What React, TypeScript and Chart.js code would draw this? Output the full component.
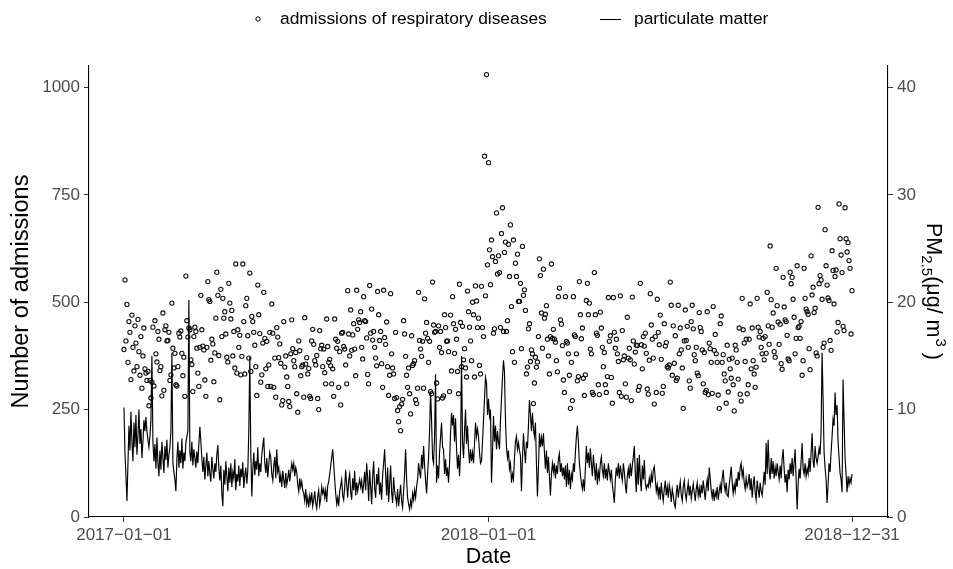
import { useEffect, useRef } from "react";
import { Chart, registerables } from "chart.js";

Chart.register(...registerables);

const xTickDays = [0, 365, 729];
const xTickLabels = ["2017\u221201\u221201", "2018\u221201\u221201", "2018\u221212\u221231"];
const leftTicks = [0, 250, 500, 750, 1000];
const rightTicks = [0, 10, 20, 30, 40];
const legendLabels = ["admissions of respiratory diseases", "particulate matter"];
const axisTitles = { x: "Date", left: "Number of admissions" };

const admissions2017 = [
  390, 552, 410, 495, 360, 455, 430, 320, 470, 395, 340, 445, 405, 350, 460, 385, 330, 420, 300, 375, 440, 345,
  335, 318, 339, 259, 318, 277, 314, 442, 305, 457, 380,
  361, 432, 414, 341, 350, 282, 475, 295, 436, 445, 410,
  411, 430, 318, 331, 498, 393, 347, 381, 308, 305, 350,
  428, 419, 433, 381, 329, 372, 281, 561, 457, 419, 440,
  436, 366, 355, 292, 420, 442, 432, 393, 335, 304, 395,
  516, 436, 398, 389, 319, 281, 395, 548, 506, 502, 365,
  414, 403, 315, 382, 463, 570, 516, 376, 273, 530, 420,
  509, 463, 478, 426, 372, 361, 544, 498, 461, 481, 375,
  432, 347, 589, 335, 436, 395, 423, 331, 374, 589, 455,
  333, 492, 509, 422, 370, 568, 339, 467, 455, 430, 400,
  350, 283, 540, 471, 427, 314, 331, 405, 523, 416, 345,
  409, 304, 354, 430,
  304, 496, 428, 302, 370, 279, 441, 419, 371, 403,
  358, 261, 271, 455, 349, 375, 326, 304, 269, 257, 380,
  459, 392, 364, 350, 383, 287, 244, 410, 387, 329,
  350, 354, 279, 464, 356, 371, 333, 346, 281, 276, 410,
  437, 402, 364, 354, 376, 276, 250, 434, 392, 400,
  350, 391, 336, 310, 461, 397, 360, 367, 352, 310, 345,
  281, 461, 414, 393, 409, 302, 385, 261, 428, 430,
  397, 391, 354, 310, 527, 426, 375, 482, 388, 424, 450,
  391, 329, 528, 437, 459, 453, 478, 395, 368, 513,
  457, 455, 417, 332, 310, 539, 428, 484, 412, 432, 395,
  370, 352, 525, 471, 411, 432, 357, 302, 528, 418,
  402, 454, 350, 283, 330, 520, 380, 347, 333, 276, 430,
  278, 248, 222, 257, 201, 263, 274, 457, 426, 374, 330,
  302, 347, 287, 240, 422, 353, 357, 364, 273, 264, 300,
  523, 411, 391, 374, 409, 300, 508, 428, 453, 416, 360,
  409, 292, 287, 547, 447, 430, 432, 312, 275, 445, 395,
  432, 383, 277, 282, 471, 441, 409, 410, 385, 292, 470,
  340, 513, 450, 381, 437, 414, 339, 287, 542, 453, 350,
  444, 366, 392, 347, 326, 526, 478, 442, 410, 364, 500,
  471, 326, 538, 503, 441, 463, 353, 333, 537, 441,
  420, 840, 515, 1030, 587,
];

const admissions2018 = [
  825, 622, 541, 645, 606, 428, 438, 595, 708, 566, 608, 569, 441, 660, 720, 432, 616, 640, 432, 457, 635, 560,
  680, 490, 385, 645, 360, 591, 560, 612, 502,
  502, 544, 392, 630, 516, 529, 481, 333, 349, 438, 450,
  362, 389, 380, 264, 312, 372, 349, 361, 420, 601,
  562, 475, 393, 577, 463, 472, 492, 414, 375, 333, 420,
  589, 416, 437, 414, 407, 364, 338, 513, 533, 459,
  449, 399, 319, 290, 513, 409, 405, 380, 330, 253, 360,
  271, 513, 424, 420, 380, 317, 327, 548, 471, 415, 440,
  323, 283, 331, 504, 544, 471, 498, 391, 380, 290,
  285, 569, 471, 428, 423, 308, 285, 477, 440, 395, 350,
  383, 308, 290, 327, 511, 409, 422, 325, 265, 511, 430,
  393, 414, 380, 362, 290, 515, 281, 434, 366, 375, 310,
  279, 465, 370, 393, 366, 271, 512, 410, 356, 384, 400,
  399, 295, 304, 544, 401, 345, 420,
  398, 428, 381, 298, 286, 365, 520, 447, 414, 370, 263, 420,
  290, 507, 430, 401, 470, 367, 288, 304, 450, 398, 406, 350,
  347, 354, 547, 493, 330, 445, 358, 422, 318, 323, 493, 380,
  440, 389, 347, 253, 410, 482, 411, 444, 395, 317, 300, 455,
  493, 438, 378, 364, 395, 335, 329, 476, 441, 432, 389, 310,
  383, 290, 295, 478, 285, 405, 392, 360, 288, 490, 388, 425,
  380, 360, 284, 253, 450, 468, 360, 378, 333, 317, 265, 400,
  291, 367, 345, 323, 370, 308, 247, 400, 389, 360, 321, 440,
  286, 270, 509, 436, 405, 362, 414, 287, 308, 414, 496, 345,
  440, 364, 333, 302, 349, 509, 442, 419, 432, 395, 380,
  416, 366, 420, 381, 523,
  445, 402, 631, 506, 442, 475, 385, 372, 579, 492,
  454, 402, 449, 357, 344, 558, 489, 459, 455, 423,
  368, 364, 570, 543, 558, 507, 465, 380, 416, 585,
  441, 444, 416, 455, 330, 364, 579, 509, 484, 478,
  472, 392, 343, 608, 517, 535, 476, 486, 382, 375,
  721, 543, 562, 552, 507, 395, 405, 669, 585, 540,
  510, 504, 411, 388, 620, 574, 496, 560, 575, 431,
  453, 729, 648, 610, 569, 444, 434, 720, 648,
  617, 639, 597, 579, 426, 527,
];

const pm2017 = [
  10.2, 6.0, 3.8, 1.5, 5.0, 8.5, 6.2, 9.8, 7.0, 5.2, 8.8, 6.5, 9.5, 5.8, 7.6, 10.0, 6.8, 8.2, 5.5, 7.0, 9.0, 8.0,
  9.3, 8.0, 7.2, 6.5, 7.5, 9.0, 15.0, 7.0,
  5.2, 6.8, 4.5, 7.4, 5.0, 3.8, 6.2, 4.4, 7.0, 5.5, 4.1, 6.6, 5.3, 7.2, 4.6, 5.8,
  6.5, 8.0, 15.3, 5.0, 4.2, 3.5, 2.4,
  5.4, 7.0, 4.6, 6.2, 5.0, 7.3, 4.5, 6.0, 5.2, 6.9, 7.5,
  8.0, 20.2, 6.0,
  5.2, 7.0, 4.8, 6.3, 5.5, 4.6, 6.1, 5.0, 6.8,
  8.4, 7.0, 5.5,
  4.2, 5.6, 3.5, 4.8, 6.0, 3.8, 5.2, 4.0, 3.3, 5.6, 4.5, 3.6, 5.0, 4.2, 5.8, 6.7, 4.6, 3.4, 4.8, 2.2, 1.0,
  4.4, 3.0, 5.2, 3.8, 2.4, 4.6, 3.2, 5.0, 2.8, 4.2, 3.6, 5.4, 2.5, 4.0, 3.3, 4.8, 2.9, 4.5, 3.7, 5.1, 2.7, 3.9, 4.6, 3.1, 4.3,
  8.0, 14.9, 6.0, 1.9,
  4.5, 6.0, 3.9, 5.2, 4.4, 6.5, 3.8, 5.0, 4.2, 5.8, 6.6, 7.4, 5.0, 4.1, 5.5, 3.7, 4.9, 6.0,
  5.5, 4.0, 3.4, 4.8, 5.6, 3.6,
  6.3, 4.2,
  4.6, 3.2, 3.9, 2.8, 4.3, 3.5, 2.7, 4.1, 3.0, 3.6, 4.4, 3.3,
  4.2, 5.0, 4.4, 5.0, 3.8,
  4.6, 4.2, 3.0, 2.4, 3.6, 2.8, 3.3, 2.5,
  2.2, 1.5, 2.6, 1.2, 1.8, 0.9, 2.0, 1.4, 2.3, 1.0, 1.6, 2.4, 1.3, 0.8, 1.9, 2.5, 1.1, 1.7, 2.8, 2.2,
  2.6,
  1.8, 2.5, 1.4, 2.9, 3.3, 4.0, 4.8, 5.5, 6.3, 5.0, 3.5,
  2.2, 1.2, 1.8, 1.0, 2.4,
  2.9, 3.5,
  2.0, 1.6, 2.8, 4.4, 3.0, 1.8, 3.4, 4.0, 2.3, 1.6, 3.6, 2.5, 4.3, 2.0, 3.2,
  2.4, 3.0, 3.5, 2.8, 3.4, 2.2,
  3.0, 4.2, 2.5, 5.0, 3.6, 1.5, 4.4, 2.8, 1.2, 3.8, 5.2, 2.6, 1.8, 4.0, 3.0, 4.6, 2.1,
  3.2, 1.6, 3.9, 5.0, 6.3, 4.0,
  2.0, 4.6, 1.4, 3.1, 4.8, 2.3, 1.3, 3.7, 2.4, 1.8,
  1.2, 2.6, 1.0, 2.0, 3.0, 1.5, 0.9, 2.4, 4.0, 6.3, 3.5, 1.8, 1.2, 0.7, 1.5, 1.0, 2.2, 1.6, 2.5, 1.8, 2.8, 3.5, 5.0, 4.2,
  3.6, 5.8, 4.5, 6.6, 4.8, 3.4, 2.2,
  4.0, 5.5, 8.0, 11.6, 9.0, 5.5, 5.0, 7.5, 13.3, 3.2,
  4.8, 3.6, 6.0, 7.5, 8.8, 6.5, 6.3, 4.0, 5.4, 3.8,
  4.6, 3.2, 5.0, 7.8, 9.7, 8.5, 9.5, 7.0, 9.2, 6.3,
  4.5, 5.8, 3.8, 6.0, 15.0, 7.0, 5.5, 8.0, 10.0, 6.8,
  8.5, 6.3, 5.0, 6.3, 5.2, 6.0, 5.0, 6.8, 8.8, 7.5,
  8.2, 7.5, 6.0, 5.0, 5.2, 7.0, 9.0, 11.0, 13.0, 12.5,
  9.5,
];

const pm2018 = [
  11.0, 9.4, 10.0, 3.2, 6.0, 9.4, 7.0, 8.5, 6.3, 8.0, 7.0, 6.3, 9.0, 11.0, 13.0, 14.6, 13.5, 9.0, 6.5, 5.5,
  6.2, 4.5, 5.0, 3.2, 4.0, 3.5, 5.5, 7.0, 7.5, 6.3, 6.9,
  6.2, 5.7, 2.4, 5.5, 7.8, 6.2, 5.0, 7.0, 6.4, 8.5,
  10.9, 9.5, 8.0, 9.7, 8.2, 7.5, 8.8, 5.0, 1.9, 4.5,
  7.8, 6.5, 7.4, 6.6, 7.8, 6.0, 4.5, 6.2, 4.1, 5.6,
  3.8, 2.0, 4.0, 5.0, 4.2, 5.0, 3.6, 4.8, 4.0, 5.4,
  5.9, 4.2, 5.0, 3.8, 4.6, 3.5, 4.8, 2.8, 5.0, 3.0,
  4.4, 2.6, 4.0, 3.5, 5.0, 4.2, 6.0, 7.5, 8.5, 7.0,
  5.0, 4.0, 3.2, 2.6, 3.5, 2.4, 4.5, 6.6, 5.0, 6.0,
  4.6, 6.4, 5.0, 3.8, 5.8, 4.6, 3.4, 5.0, 3.0, 4.2,
  3.6, 5.0, 5.6, 4.4, 3.8, 5.0, 3.6, 4.5, 3.4, 5.0,
  4.2, 3.5, 4.4, 3.0, 2.2, 1.3, 3.5, 4.6, 3.8, 5.0,
  3.6, 4.8, 4.0, 3.4, 5.0, 4.2, 3.0, 2.2, 3.8, 4.5,
  3.6, 5.0, 3.8, 4.8, 5.6, 6.6, 4.0, 2.3, 5.5, 3.0,
  5.8, 3.6, 2.4, 4.8, 3.5,
  5.3, 3.2, 2.6, 3.0, 2.8, 3.6, 3.0, 4.0, 3.2, 4.4,
  4.7, 3.5, 2.4, 3.0, 2.0, 2.8, 1.6, 3.2, 2.2, 1.5,
  2.6, 3.4, 2.0, 2.8, 1.8, 3.0, 2.4, 1.4, 2.6, 2.0,
  1.2, 0.9, 2.2, 3.0, 1.8, 2.6, 3.3, 2.0, 1.5, 2.8,
  3.4, 2.2, 1.6, 2.5, 3.2, 2.0, 2.9, 1.7, 2.4, 3.1,
  2.3, 1.5, 2.6, 3.2, 2.0, 2.7, 1.8, 3.0, 2.2, 3.4,
  2.5, 1.6, 2.8, 3.5, 2.4, 4.6, 3.6, 2.5, 1.8, 2.6,
  1.5, 2.3, 1.9, 2.8, 1.6, 2.4, 3.0, 2.2, 3.6, 4.4,
  3.0, 2.4, 3.2, 2.0, 1.9, 3.0, 3.8, 4.7, 3.2, 2.2,
  3.0, 2.4, 3.6, 2.8, 4.2, 3.4, 4.6, 5.0, 3.8, 4.4,
  3.2, 2.6, 3.6, 2.8, 3.2, 4.0, 2.5, 3.6, 1.8, 3.0,
  3.8, 2.2, 1.6, 3.4, 2.6, 1.8, 3.2, 2.4, 2.0, 3.0,
  4.2, 3.0, 6.9, 4.0,
  7.2, 4.5, 3.5, 5.5, 4.0, 5.2, 3.6, 4.6, 3.8, 5.0,
  4.2, 3.5, 4.8, 3.6, 5.4, 6.3, 4.5, 3.2, 4.0, 2.3,
  4.4, 3.5, 5.0, 4.0, 5.5, 3.8, 5.0, 6.3, 3.5, 0.7,
  3.0, 4.5, 3.6, 5.2, 6.9, 4.5, 4.0, 5.0, 3.8, 4.5,
  4.0, 5.5, 4.2, 6.0, 7.8, 5.2, 4.6, 6.6, 5.5, 5.0,
  5.6, 6.4, 5.8, 8.0, 15.3, 11.0, 6.0, 4.6, 3.5, 1.3,
  3.0, 5.0, 4.2, 6.0, 7.5, 9.1, 8.5, 11.6, 9.5, 10.4,
  7.0, 5.5, 4.1, 3.5, 2.3, 12.8, 9.0, 5.5, 4.0, 2.3,
  3.8, 3.0, 3.6, 3.2, 4.0,
];

const FONT = '"Liberation Sans", Arial, Helvetica, sans-serif';
const TICK_COLOR = "#4D4D4D";

const overlayPlugin = {
  id: "overlayText",
  afterDraw(chart: any) {
    const { ctx, chartArea } = chart;
    const midY = (chartArea.top + chartArea.bottom) / 2;
    const midX = (chartArea.left + chartArea.right) / 2;
    ctx.save();
    // legend
    ctx.fillStyle = "#000";
    ctx.strokeStyle = "#000";
    ctx.lineWidth = 1;
    ctx.font = `17.4px ${FONT}`;
    ctx.textBaseline = "middle";
    ctx.textAlign = "left";
    ctx.beginPath();
    ctx.arc(258, 19, 2.2, 0, Math.PI * 2);
    ctx.stroke();
    ctx.fillText(legendLabels[0], 280, 19);
    ctx.beginPath();
    ctx.lineWidth = 1.1;
    ctx.moveTo(600, 19.5);
    ctx.lineTo(621, 19.5);
    ctx.stroke();
    ctx.fillText(legendLabels[1], 634, 19);

    // axis titles
    ctx.font = `21.5px ${FONT}`;
    ctx.textAlign = "center";
    ctx.fillText(axisTitles.x, midX, 557);

    ctx.save();
    ctx.translate(22, midY);
    ctx.rotate(-Math.PI / 2);
    ctx.font = `23.5px ${FONT}`;
    ctx.fillText(axisTitles.left, 0, 0);
    ctx.restore();

    // right title with sub/superscripts
    const parts = [
      { t: "PM", s: 21.5, dy: 0, gap: 0 },
      { t: "2.5", s: 15, dy: 5, gap: 0 },
      { t: "(\u03BCg/ m", s: 21.5, dy: 0, gap: 0 },
      { t: "3", s: 15, dy: -9, gap: 1 },
      { t: " )", s: 21.5, dy: 0, gap: 0 },
    ];
    let total = 0;
    const widths = parts.map((p) => {
      ctx.font = `${p.s}px ${FONT}`;
      const w = ctx.measureText(p.t).width + p.gap;
      total += w;
      return w;
    });
    ctx.save();
    ctx.translate(934, midY);
    ctx.rotate(Math.PI / 2);
    ctx.textAlign = "left";
    ctx.textBaseline = "alphabetic";
    let x = -total / 2;
    parts.forEach((p, i) => {
      ctx.font = `${p.s}px ${FONT}`;
      ctx.fillText(p.t, x + p.gap, 7.5 + p.dy);
      x += widths[i];
    });
    ctx.restore();
    ctx.restore();
  },
};

export default function App() {
  const ref = useRef<HTMLCanvasElement | null>(null);

  useEffect(() => {
    if (!ref.current) return;
    const adm = admissions2017.concat(admissions2018).map((v, i) => ({ x: i, y: v }));
    const pm = pm2017.concat(pm2018).map((v, i) => ({ x: i, y: v }));

    const tickFont = { family: FONT, size: 17 };
    const grid = {
      display: true,
      drawOnChartArea: false,
      drawTicks: true,
      tickLength: 5,
      tickColor: "#333333",
      tickWidth: 1,
    };
    const border = { display: true, color: "#000", width: 1.1 };

    const chart = new Chart(ref.current, {
      type: "scatter",
      data: {
        datasets: [
          {
            label: legendLabels[1],
            data: pm,
            yAxisID: "y2",
            showLine: true,
            borderColor: "#000",
            borderWidth: 1.15,
            pointRadius: 0,
            tension: 0,
            fill: false,
            order: 0,
          } as any,
          {
            label: legendLabels[0],
            data: adm,
            yAxisID: "y",
            showLine: false,
            pointRadius: 2.1,
            pointBorderWidth: 1.1,
            pointBorderColor: "#111",
            pointBackgroundColor: "rgba(0,0,0,0)",
            order: 1,
          } as any,
        ],
      },
      options: {
        animation: false,
        responsive: false,
        maintainAspectRatio: false,
        events: [],
        layout: { padding: { top: 66, left: 0, right: 0, bottom: 0 } },
        plugins: { legend: { display: false }, tooltip: { enabled: false } },
        scales: {
          x: {
            type: "linear",
            min: -35,
            max: 765,
            grid,
            border,
            afterBuildTicks: (axis: any) => {
              axis.ticks = xTickDays.map((v) => ({ value: v }));
            },
            afterFit: (scale: any) => {
              scale.height = 52;
            },
            ticks: {
              autoSkip: false,
              maxRotation: 0,
              minRotation: 0,
              padding: 3,
              color: TICK_COLOR,
              font: tickFont,
              callback: (v: any) => {
                const i = xTickDays.indexOf(Number(v));
                return i >= 0 ? xTickLabels[i] : "";
              },
            },
          },
          y: {
            type: "linear",
            position: "left",
            min: 0,
            max: 1050,
            grid,
            border,
            afterBuildTicks: (axis: any) => {
              axis.ticks = leftTicks.map((v) => ({ value: v }));
            },
            afterFit: (scale: any) => {
              scale.width = 89;
            },
            ticks: { padding: 4, color: TICK_COLOR, font: tickFont, callback: (v: any) => String(v) },
          },
          y2: {
            type: "linear",
            position: "right",
            min: 0,
            max: 42,
            grid,
            border,
            afterBuildTicks: (axis: any) => {
              axis.ticks = rightTicks.map((v) => ({ value: v }));
            },
            afterFit: (scale: any) => {
              scale.width = 65;
            },
            ticks: { padding: 4, color: TICK_COLOR, font: tickFont, callback: (v: any) => String(v) },
          },
        },
      },
      plugins: [overlayPlugin],
    });
    return () => chart.destroy();
  }, []);

  return (
    <div style={{ position: "absolute", left: 0, top: 0, width: 953, height: 569, background: "#fff" }}>
      <canvas ref={ref} width={953} height={569} style={{ display: "block" }} />
    </div>
  );
}
